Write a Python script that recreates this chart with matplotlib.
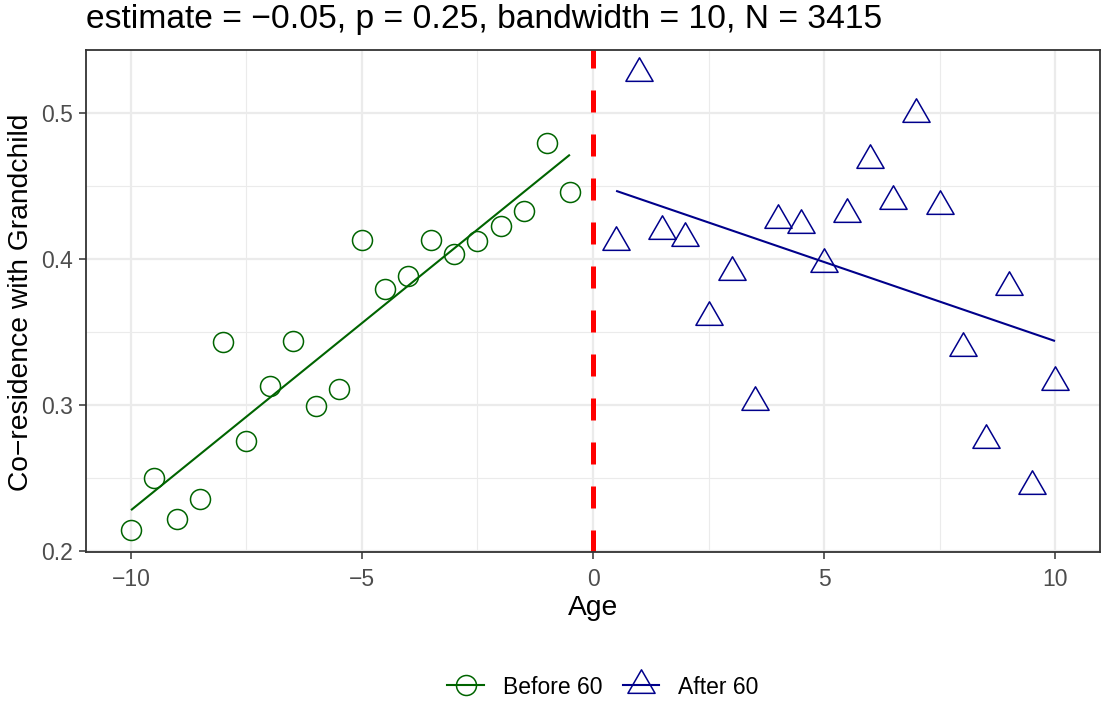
import matplotlib
matplotlib.use("Agg")
import matplotlib.pyplot as plt
from matplotlib.path import Path
from matplotlib.lines import Line2D

plt.rcParams['font.family'] = ['Liberation Sans', 'DejaVu Sans']

# ---------------- data ----------------
age_before = [-10, -9.5, -9, -8.5, -8, -7.5, -7, -6.5, -6, -5.5,
              -5, -4.5, -4, -3.5, -3, -2.5, -2, -1.5, -1, -0.5]
cores_before = [0.2145, 0.2499, 0.2219, 0.2353, 0.3428, 0.2754, 0.3130, 0.3435, 0.2993, 0.3112,
                0.4130, 0.3793, 0.3886, 0.4132, 0.4032, 0.4123, 0.4226, 0.4328, 0.4797, 0.4458]

age_after = [0.5, 1, 1.5, 2, 2.5, 3, 3.5, 4, 4.5, 5,
             5.5, 6, 6.5, 7, 7.5, 8, 8.5, 9, 9.5, 10]
cores_after = [0.4119, 0.5278, 0.4194, 0.4148, 0.3605, 0.3909, 0.3018, 0.4265, 0.4233, 0.3963,
               0.4311, 0.4678, 0.4395, 0.4998, 0.4361, 0.3390, 0.2758, 0.3808, 0.2441, 0.3158]

fit_before_x = [-10, -0.5]
fit_before_y = [0.2278, 0.4716]
fit_after_x = [0.5, 10]
fit_after_y = [0.4468, 0.3438]

cutoff = 0
x_ticks = [-10, -5, 0, 5, 10]
x_tick_labels = ["\u221210", "\u22125", "0", "5", "10"]
x_minor = [-7.5, -2.5, 2.5, 7.5]
y_ticks = [0.2, 0.3, 0.4, 0.5]
y_tick_labels = ["0.2", "0.3", "0.4", "0.5"]
y_minor = [0.25, 0.35, 0.45]

title = "estimate = \u22120.05, p = 0.25, bandwidth = 10, N = 3415"
xlabel = "Age"
ylabel = "Co\u2212residence with Grandchild"
labels = ["Before 60", "After 60"]

# ---------------- styling ----------------
W, H = 1101, 702
green = "#006400"
blue = "#00008B"
grid_col = "#EBEBEB"
dark = "#333333"

fig = plt.figure(figsize=(W / 100, H / 100), dpi=100)
left, right, top, bottom = 86, 1100, 50, 552
ax = fig.add_axes([left / W, 1 - bottom / H, (right - left) / W, (bottom - top) / H])

# equilateral triangle, centred at the centroid (as R pch 2)
tri = Path([(0, 2 / 3), (-0.57735, -1 / 3), (0.57735, -1 / 3), (0, 2 / 3)], closed=True)

ax.plot(age_before, cores_before, linestyle="none", marker="o", ms=14.4,
        mfc="none", mec=green, mew=1.1, zorder=3)
ax.plot(age_after, cores_after, linestyle="none", marker=tri, ms=22.6,
        mfc="none", mec=blue, mew=1.1, zorder=3)
ax.plot(fit_before_x, fit_before_y, color=green, lw=1.5, zorder=3, solid_capstyle="butt")
ax.plot(fit_after_x, fit_after_y, color=blue, lw=1.5, zorder=3, solid_capstyle="butt")

ax.axvline(cutoff, color="#FF0000", lw=3.6, linestyle=(0, (4.4, 4.4)), zorder=2)

ax.set_xlim(-10.974, 10.974)
ax.set_ylim(0.1991, 0.5434)

ax.set_xticks(x_ticks)
ax.set_xticklabels(x_tick_labels)
ax.set_xticks(x_minor, minor=True)
ax.set_yticks(y_ticks)
ax.set_yticklabels(y_tick_labels)
ax.set_yticks(y_minor, minor=True)

ax.set_axisbelow(True)
ax.grid(which="major", color=grid_col, lw=1.6)
ax.grid(which="minor", color=grid_col, lw=0.8)
ax.tick_params(which="major", length=5, width=1.1, color=dark,
               labelsize=16.5, labelcolor="#4D4D4D")
ax.tick_params(axis="x", which="major", pad=6.5)
ax.tick_params(axis="y", which="major", pad=4.5)
ax.tick_params(which="minor", length=0)
for s in ax.spines.values():
    s.set_color(dark)
    s.set_linewidth(1.3)

fig.text((left + right) / 2 / W, 1 - 615 / H, xlabel, fontsize=20.3,
         ha="center", va="baseline")
fig.text(28 / W, 1 - 302 / H, ylabel, rotation=90, fontsize=20.3,
         ha="center", va="baseline", rotation_mode="anchor")
fig.text(left / W, 1 - 28 / H, title, fontsize=24.2, ha="left", va="baseline")

handles = [
    Line2D([], [], color=green, lw=1.5, marker="o", ms=14.4, mfc="none", mec=green, mew=1.1),
    Line2D([], [], color=blue, lw=1.5, marker=tri, ms=22.6, mfc="none", mec=blue, mew=1.1),
]
fig.legend(handles, labels, loc="center", bbox_to_anchor=(603 / W, 1 - 687 / H),
           ncol=2, frameon=False, fontsize=16.5, handlelength=1.6,
           handletextpad=0.83, columnspacing=0.87, numpoints=1)

fig.savefig("out.png", dpi=100)
